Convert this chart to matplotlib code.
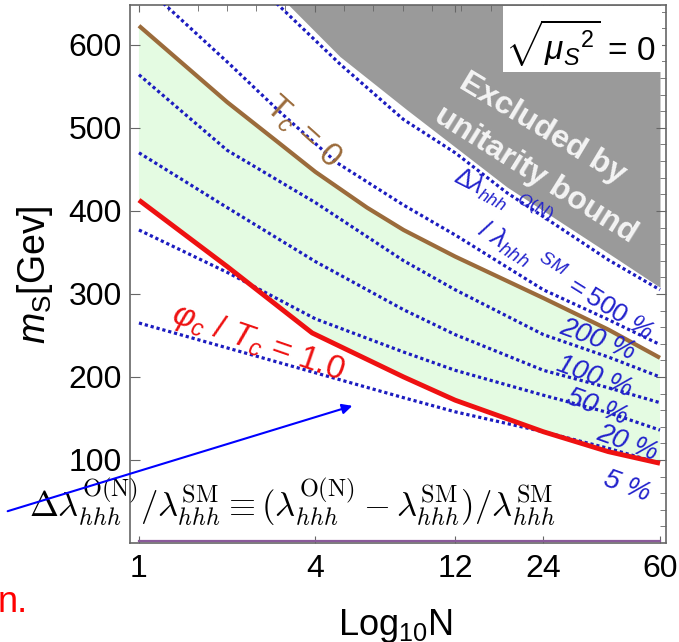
import numpy as np
import matplotlib
matplotlib.use('Agg')
import matplotlib.pyplot as plt
from matplotlib.patches import Rectangle, FancyArrowPatch
from matplotlib.ticker import NullFormatter

plt.rcParams['font.family'] = ['Liberation Sans', 'DejaVu Sans']
plt.rcParams['mathtext.fontset'] = 'custom'
plt.rcParams['mathtext.rm'] = 'Liberation Sans'
plt.rcParams['mathtext.it'] = 'Liberation Sans:italic'
plt.rcParams['mathtext.bf'] = 'Liberation Sans:bold'

# ---------------- data ----------------
N_Tc0 = [1, 2, 3, 4, 6, 8, 12, 24, 40, 60]
m_Tc0 = [623, 531, 482, 447, 404, 377, 345, 295, 257, 223]   # T_c = 0 (brown)
N_phi = [1, 2, 3.9, 8, 12, 24, 40, 60]
m_phi = [413, 333, 253, 200, 172, 134, 110, 96]              # phi_c/T_c = 1.0 (red)
N_grid = [1, 2, 4, 8, 12, 24, 40, 60]
N_500 = [2.85, 4.85, 8, 12, 18, 24, 40, 60]
m_500 = [655, 577, 510, 470, 422, 393, 341, 305]
N_200 = [1.17, 2.05, 3.03, 4.74, 8, 12, 24, 40, 60]
m_200 = [655, 576, 519, 458, 407, 371, 305, 269, 239]
m_100 = [564, 473, 410, 340, 305, 251, 224, 200]
m_50 = [470, 404, 339, 281, 251, 208, 187, 169]
m_20 = [377, 326, 270, 230, 208, 178, 157, 136]
m_5 = [265, 235, 205, 175, 158, 134, 114, 96]
N_unit = [3.2, 4.85, 8.2, 18, 40, 60]
m_unit = [650, 586, 522, 429, 349, 308]                      # unitarity bound
xticks = [1, 4, 12, 24, 60]
xticklabels = ['1', '4', '12', '24', '60']
yticks = [100, 200, 300, 400, 500, 600]
pct_labels = ['200 %', '100 %', '50 %', '20 %', '5 %']

# ---------------- figure ----------------
W, H = 679, 642
fig = plt.figure(figsize=(W / 100, H / 100), dpi=100)
ax = fig.add_axes([130 / W, 1 - 543 / H, 536 / W, 538 / H])


def fp(x, y):
    return (x / W, 1 - y / H)


ax.set_xscale('log')
ax.set_xlim(0.932, 62.9)
ax.set_ylim(0, 648)

# regions
ax.fill(np.r_[N_Tc0, N_phi[::-1]], np.r_[m_Tc0, m_phi[::-1]],
        color='#e4fbe2', lw=0, zorder=1)
ax.fill_between(N_unit, m_unit, 700, color='#9a9a9a', lw=0, zorder=1)

# contour lines
dot = dict(color='#1c1cc0', lw=2.3, ls=(0, (1.0, 0.9)), zorder=3)
ax.plot(N_500, m_500, **dot)
ax.plot(N_200, m_200, **dot)
for mv in (m_100, m_50, m_20, m_5):
    ax.plot(N_grid, mv, **dot)

ax.plot(N_Tc0, m_Tc0, color='#9b6b3b', lw=3.0, zorder=4, solid_capstyle='butt',
        solid_joinstyle='round')
ax.plot(N_phi, m_phi, color='#ee1111', lw=3.5, zorder=4, solid_capstyle='butt',
        solid_joinstyle='round')
ax.plot([1, 60], [2.5, 2.5], color='#8a5a9a', lw=1.6, zorder=4)

# axes styling
for s in ax.spines.values():
    s.set_color('#666666')
    s.set_linewidth(1.2)
ax.set_xticks(xticks)
ax.set_xticklabels(xticklabels)
ax.set_xticks([10 ** (0.1 * k) for k in range(0, 18)], minor=True)
ax.xaxis.set_minor_formatter(NullFormatter())
ax.tick_params(axis='x', which='minor', bottom=False, top=True, direction='in',
               length=4, color='#666666')
ax.tick_params(axis='x', which='major', bottom=True, top=True, direction='in',
               length=5, color='#666666', labelsize=23, pad=8)
ax.set_yticks(yticks)
ax.set_yticks(np.arange(20, 648, 20), minor=True)
ax.yaxis.set_minor_formatter(NullFormatter())
ax.tick_params(axis='y', which='major', left=True, right=True, direction='in',
               length=7, color='#666666', labelsize=23, pad=6)
ax.tick_params(axis='y', which='minor', left=False, right=True, direction='in',
               length=4, color='#666666')

fig.text(*fp(395, 626), r'Log$_{10}$N', fontsize=26, ha='center', va='center')
fig.text(*fp(35, 275), r'$m_{\rm S}$[Gev]', fontsize=27, ha='center', va='center',
         rotation=90)

# legend box
ax.add_patch(Rectangle(fp(503, 72), (662 - 503) / W, (72 - 6) / H,
                       transform=fig.transFigure, facecolor='white',
                       edgecolor='none', zorder=6))
fig.text(*fp(580, 42), r'$\sqrt{\mu_S{}^2}$ = 0', fontsize=24, ha='center',
         va='center', zorder=7)

# labels
fig.text(*fp(542, 129), 'Excluded by', fontsize=23, fontweight='bold',
         color='#f4f4f4', rotation=-31, ha='center', va='center',
         rotation_mode='anchor', zorder=5)
fig.text(*fp(536, 175), 'unitarity bound', fontsize=23, fontweight='bold',
         color='#f4f4f4', rotation=-32, ha='center', va='center',
         rotation_mode='anchor', zorder=5)
fig.text(*fp(302, 132), r'T$_c$ = 0', fontsize=24, color='#9b6b3b', rotation=-42,
         ha='center', va='center', rotation_mode='anchor', zorder=5)
fig.text(*fp(258, 343), r'$\varphi_c$ / $T_c$ = 1.0', fontsize=24, color='#ee1111',
         rotation=-19, ha='center', va='center', rotation_mode='anchor', zorder=5)
fig.text(*fp(503, 197), r'$\Delta\lambda_{hhh}\ {}^{O(N)}$', fontsize=18,
         color='#2222cc', rotation=-27, ha='center', va='center',
         rotation_mode='anchor', zorder=5)
fig.text(*fp(566, 280), r'$/\ \lambda_{hhh}\ {}^{SM}$ $= 500$ %', fontsize=19,
         color='#2222cc', rotation=-32, ha='center', va='center',
         rotation_mode='anchor', zorder=5, fontstyle='italic')
pct_pos = [(597, 340), (594, 377), (597, 407), (627, 443), (627, 487)]
for lab, (px, py) in zip(pct_labels, pct_pos):
    fig.text(*fp(px, py), lab, fontsize=20, color='#2222cc', fontstyle='italic',
             rotation=-20, ha='center', va='center', rotation_mode='anchor',
             zorder=5)

# formula + annotation
fig.text(*fp(292, 502),
         r'$\Delta\lambda^{\rm O(N)}_{hhh}/\lambda^{\rm SM}_{hhh}\equiv'
         r'(\lambda^{\rm O(N)}_{hhh}-\lambda^{\rm SM}_{hhh})/\lambda^{\rm SM}_{hhh}$',
         fontsize=25, math_fontfamily='cm', ha='center', va='center', zorder=8)
fig.add_artist(FancyArrowPatch(fp(5, 512), fp(355, 405), transform=fig.transFigure,
                               arrowstyle='-|>,head_length=6,head_width=3',
                               color='#0000ff', lw=1.5, zorder=9))
fig.text(*fp(-2, 603), 'n.', fontsize=26, color='#ff0000', ha='left', va='center')

fig.savefig('out.png', dpi=100)
